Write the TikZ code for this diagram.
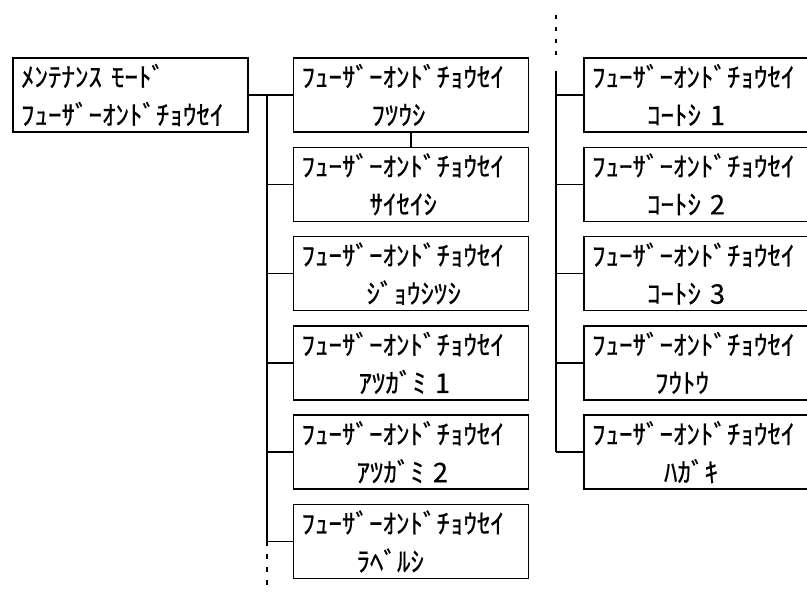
\documentclass[tikz,border=0pt]{standalone}
\usepackage{fontspec}
\setmainfont{Noto Sans CJK JP}[FakeBold=0.6]
\usetikzlibrary{positioning}

\begin{document}
\begin{tikzpicture}[
  x=1pt, y=-1pt,
  menubox/.style={rectangle, draw, line width=1.5pt, minimum width=235pt, minimum height=74pt,
    text width=219pt, inner xsep=8pt, inner ysep=0pt, align=left,
    font=\fontsize{27}{38}\selectfont},
  link/.style={line width=1.5pt},
  cont/.style={line width=1.5pt, dash pattern=on 5pt off 8pt}
]
\useasboundingbox (0,0) rectangle (807,592);
\clip (0,0) rectangle (807,592);

\node[menubox] (main) at (130.5,95) {ﾒﾝﾃﾅﾝｽ ﾓｰﾄﾞ\\ﾌｭｰｻﾞｰｵﾝﾄﾞﾁｮｳｾｲ};

\node[menubox, right=44pt of main] (plain) {ﾌｭｰｻﾞｰｵﾝﾄﾞﾁｮｳｾｲ\\\hspace*{70pt}ﾌﾂｳｼ};
\node[menubox, below=13.8pt of plain] (recycled) {ﾌｭｰｻﾞｰｵﾝﾄﾞﾁｮｳｾｲ\\\hspace*{68pt}ｻｲｾｲｼ};
\node[menubox, below=13.8pt of recycled] (bond) {ﾌｭｰｻﾞｰｵﾝﾄﾞﾁｮｳｾｲ\\\hspace*{65pt}ｼﾞｮｳｼﾂｼ};
\node[menubox, below=13.8pt of bond] (thickA) {ﾌｭｰｻﾞｰｵﾝﾄﾞﾁｮｳｾｲ\\\hspace*{57pt}ｱﾂｶﾞﾐ\hspace{9pt}1};
\node[menubox, below=13.8pt of thickA] (thickB) {ﾌｭｰｻﾞｰｵﾝﾄﾞﾁｮｳｾｲ\\\hspace*{55pt}ｱﾂｶﾞﾐ\hspace{9pt}2};
\node[menubox, below=13.8pt of thickB] (label) {ﾌｭｰｻﾞｰｵﾝﾄﾞﾁｮｳｾｲ\\\hspace*{55pt}ﾗﾍﾞﾙｼ};

\node[menubox, right=54pt of plain] (coatA) {ﾌｭｰｻﾞｰｵﾝﾄﾞﾁｮｳｾｲ\\\hspace*{55pt}ｺｰﾄｼ\hspace{9pt}1};
\node[menubox, below=13.8pt of coatA] (coatB) {ﾌｭｰｻﾞｰｵﾝﾄﾞﾁｮｳｾｲ\\\hspace*{55pt}ｺｰﾄｼ\hspace{9pt}2};
\node[menubox, below=13.8pt of coatB] (coatC) {ﾌｭｰｻﾞｰｵﾝﾄﾞﾁｮｳｾｲ\\\hspace*{55pt}ｺｰﾄｼ\hspace{9pt}3};
\node[menubox, below=13.8pt of coatC] (envelope) {ﾌｭｰｻﾞｰｵﾝﾄﾞﾁｮｳｾｲ\\\hspace*{63pt}ﾌｳﾄｳ};
\node[menubox, below=13.8pt of envelope] (postcard) {ﾌｭｰｻﾞｰｵﾝﾄﾞﾁｮｳｾｲ\\\hspace*{72pt}ﾊｶﾞｷ};

\coordinate (ltop) at (267,95);
\coordinate (lend) at (267,541);
\coordinate (lfree) at (267,592);
\coordinate (rfree) at (556,15);
\coordinate (rdash) at (556,62);
\coordinate (rtop) at (556,71);

\draw[link] (main.east) -- (plain.west);
\draw[link] (ltop) -- (lend);
\draw[cont] (lend) -- (lfree);
\draw[link] (lend |- recycled.west) -- (recycled.west);
\draw[link] (lend |- bond.west) -- (bond.west);
\draw[link] (lend |- thickA.west) -- (thickA.west);
\draw[link] (lend |- thickB.west) -- (thickB.west);
\draw[link] (lend |- label.west) -- (label.west);
\draw[link] (plain.south) -- (recycled.north);

\draw[cont, dash pattern=on 4pt off 8pt] (rfree) -- (rdash);
\draw[link] (rtop) -- (rtop |- postcard.west);
\draw[link] (rtop |- coatA.west) -- (coatA.west);
\draw[link] (rtop |- coatB.west) -- (coatB.west);
\draw[link] (rtop |- coatC.west) -- (coatC.west);
\draw[link] (rtop |- envelope.west) -- (envelope.west);
\draw[link] (rtop |- postcard.west) -- (postcard.west);
\end{tikzpicture}
\end{document}
